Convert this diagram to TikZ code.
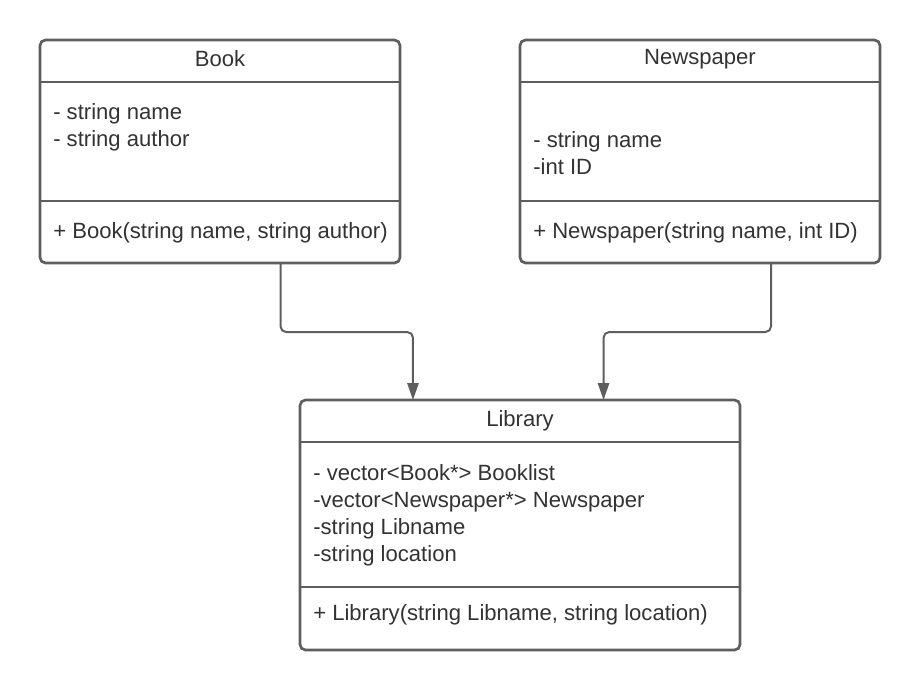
\documentclass[tikz,border=0pt]{standalone}
\usepackage{fontspec}
\setmainfont{Liberation Sans}
\usepackage{tikz}
\usetikzlibrary{arrows.meta}
\definecolor{umlline}{HTML}{5E5E5E}
\definecolor{umltext}{HTML}{333333}

\begin{document}
\begin{tikzpicture}[x=0.025cm, y=-0.025cm,
  classbox/.style={draw=umlline, line width=1.9pt, rounded corners=4pt, inner sep=0pt, outer sep=0pt, fill=white},
  sepline/.style={draw=umlline, line width=1.9pt},
  txt/.style={text=umltext, font=\fontsize{15.7}{19.3}\selectfont, inner sep=0pt},
  attr/.style={txt, anchor=west, align=left},
  link/.style={draw=umlline, line width=1.4pt, rounded corners=4pt, -{Triangle[length=12pt, width=8pt]}}]
\useasboundingbox (0,0) rectangle (920,691);
%%%%% Classes %%%%%
\node[classbox, minimum width=9cm, minimum height=5.575cm] (book) at (220,151.5) {};
\node[classbox, minimum width=9cm, minimum height=5.575cm] (paper) at (700,151.5) {};
\node[classbox, minimum width=11cm, minimum height=6.25cm] (lib) at (520,525) {};
%%%%% Compartments %%%%%
\draw[sepline] ([yshift=-1.05cm]book.north west) -- ([yshift=-1.05cm]book.north east);
\draw[sepline] ([yshift=-4.025cm]book.north west) -- ([yshift=-4.025cm]book.north east);
\draw[sepline] ([yshift=-1.05cm]paper.north west) -- ([yshift=-1.05cm]paper.north east);
\draw[sepline] ([yshift=-4.025cm]paper.north west) -- ([yshift=-4.025cm]paper.north east);
\draw[sepline] ([yshift=-1.05cm]lib.north west) -- ([yshift=-1.05cm]lib.north east);
\draw[sepline] ([yshift=-4.675cm]lib.north west) -- ([yshift=-4.675cm]lib.north east);
%%%%% Texts %%%%%
\node[txt] (booktitle) at (220,59) {Book};
\node[attr] (bookattr) at (53,127.5) {- string name\\- string author};
\node[attr] (bookop) at (53,232.5) {+ Book(string name, string author)};
\node[txt] (papertitle) at (700,59) {Newspaper};
\node[attr] (paperattr) at (533,153.5) {- string name\\-int ID};
\node[attr] (paperop) at (533,232.5) {+ Newspaper(string name, int ID)};
\node[txt] (libtitle) at (520,420.5) {Library};
\node[attr] (libattr) at (313,515) {- vector<Book*> Booklist\\-vector<Newspaper*> Newspaper\\-string Libname\\-string location};
\node[attr] (libop) at (313,614.5) {+ Library(string Libname, string location)};
%%%%% Links %%%%%
\draw[link] ([xshift=1.5125cm]book.south) -- ++(0,69) -| ([xshift=-2.675cm]lib.north);
\draw[link] ([xshift=1.775cm]paper.south) -- ++(0,69) -| ([xshift=2.0875cm]lib.north);
\end{tikzpicture}
\end{document}
